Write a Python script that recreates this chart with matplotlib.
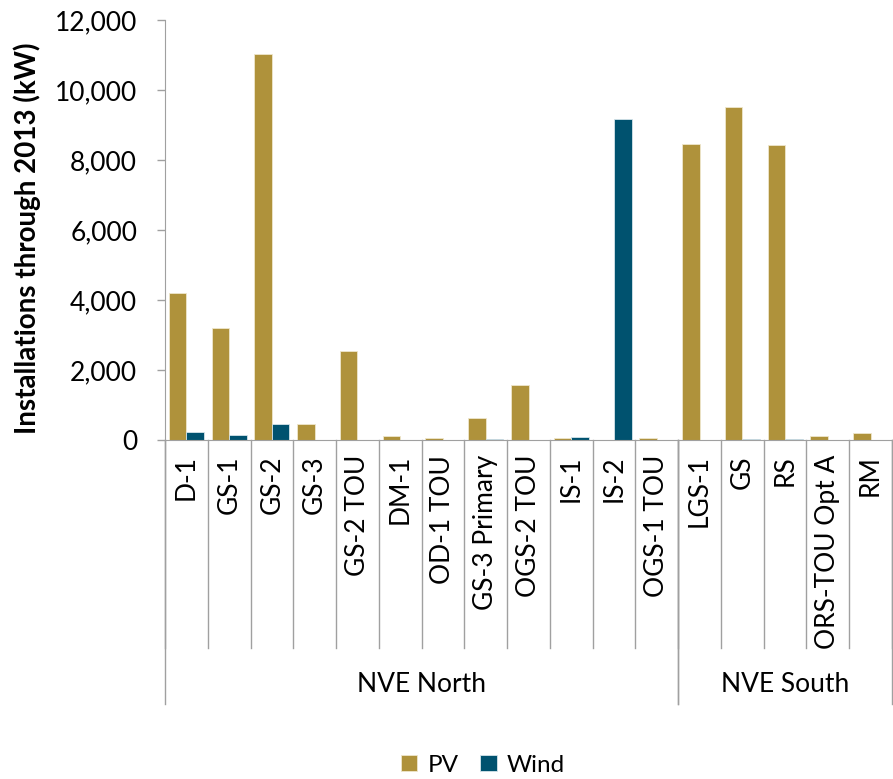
import matplotlib
matplotlib.use('Agg')
import matplotlib.pyplot as plt
from matplotlib.ticker import FuncFormatter
import numpy as np

plt.rcParams['font.family'] = ['Lato', 'DejaVu Sans']

# Rate schedules, grouped by utility
categories = ['D-1', 'GS-1', 'GS-2', 'GS-3', 'GS-2 TOU', 'DM-1', 'OD-1 TOU',
              'GS-3 Primary', 'OGS-2 TOU', 'IS-1', 'IS-2', 'OGS-1 TOU',
              'LGS-1', 'GS', 'RS', 'ORS-TOU Opt A', 'RM']
groups = ['NVE North', 'NVE South']
group_sizes = [12, 5]

# Installed capacity through 2013 (kW)
pv = [4200, 3200, 11020, 450, 2530, 115, 45, 630, 1580, 45, 0, 45,
      8450, 9510, 8420, 115, 190]
wind = [230, 150, 460, 0, 0, 0, 0, 40, 0, 85, 9180, 0,
        0, 40, 40, 0, 0]

pv_color = '#AF923B'
wind_color = '#00526F'
axis_gray = '#A0A0A0'

fig = plt.figure(figsize=(8.93, 7.79), dpi=100)
ax = fig.add_axes([165 / 893, 339 / 779, 727 / 893, 420 / 779])

x = np.arange(len(categories))
w = 0.41
ax.bar(x - w / 2, pv, width=w, color=pv_color, edgecolor='#EFE6CC', linewidth=0.6, label='PV')
ax.bar(x + w / 2, wind, width=w, color=wind_color, edgecolor='#D6E4EA', linewidth=0.6, label='Wind')

ax.set_xlim(-0.5, len(categories) - 0.5)
ax.set_ylim(0, 12000)
ax.set_yticks(np.arange(0, 12001, 2000))
ax.yaxis.set_major_formatter(FuncFormatter(lambda v, p: f'{int(v):,}'))
ax.tick_params(axis='y', labelsize=19, length=6, width=1, color=axis_gray, pad=14)
ax.set_xticks([])

for s in ['top', 'right']:
    ax.spines[s].set_visible(False)
ax.spines['left'].set_color(axis_gray)
ax.spines['bottom'].set_color(axis_gray)

ax.set_ylabel('Installations through 2013 (kW)', fontsize=20, fontweight='bold')
ax.yaxis.set_label_coords(-0.171, 0.48)

# two-level category axis drawn below the plot
trans = matplotlib.transforms.blended_transform_factory(ax.transData, ax.transAxes)
for i, name in enumerate(categories):
    ax.text(i, -0.036, name, transform=trans, rotation=90, ha='center', va='top',
            fontsize=19, clip_on=False)

cat_bottom = -0.495
grp_bottom = -0.628
for b in np.arange(-0.5, len(categories), 1.0):
    ax.plot([b, b], [0, cat_bottom], transform=trans, color=axis_gray, lw=1, clip_on=False)

start = -0.5
for g, n in zip(groups, group_sizes):
    end = start + n
    ax.plot([start, start], [0, grp_bottom], transform=trans, color=axis_gray, lw=1, clip_on=False)
    ax.plot([end, end], [0, grp_bottom], transform=trans, color=axis_gray, lw=1, clip_on=False)
    ax.text((start + end) / 2, -0.583, g, transform=trans, ha='center', va='center',
            fontsize=19, clip_on=False)
    start = end

fig.legend(loc='center', bbox_to_anchor=(483 / 893, 1 - 765 / 779), ncol=2, frameon=False,
           fontsize=17.5, handlelength=0.68, handleheight=0.68, handletextpad=0.42,
           columnspacing=0.9)

fig.savefig('out.png', dpi=100)
